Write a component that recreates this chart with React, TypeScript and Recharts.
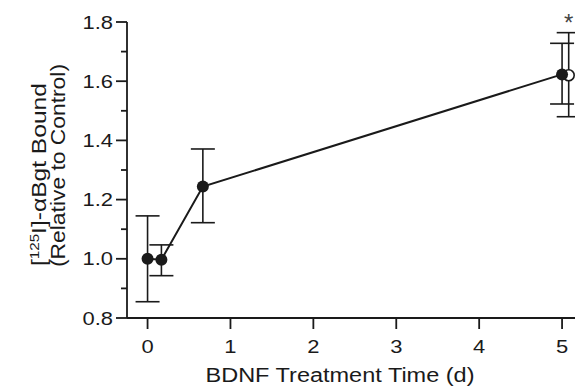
import {
  ComposedChart,
  Line,
  Scatter,
  XAxis,
  YAxis,
  ErrorBar,
  ReferenceDot,
} from 'recharts'

// BDNF treatment time (days) and normalized binding
const times = [0, 0.167, 0.667, 5]
const means = [1.0, 0.997, 1.244, 1.623]
const errLow = [0.855, 0.943, 1.122, 1.523]
const errHigh = [1.145, 1.047, 1.371, 1.728]

// open-circle comparison point at 5 d
const openTime = [5.08]
const openMean = [1.62]
const openLow = [1.48]
const openHigh = [1.764]

const xTicks = [0, 1, 2, 3, 4, 5]
const yTicks = [0.8, 0.9, 1.0, 1.1, 1.2, 1.3, 1.4, 1.5, 1.6, 1.7, 1.8]

const lineData = times.map((t, i) => ({
  x: t,
  y: means[i],
  err: [means[i] - errLow[i], errHigh[i] - means[i]],
}))

const openData = openTime.map((t, i) => ({
  x: t,
  y: openMean[i],
  err: [openMean[i] - openLow[i], openHigh[i] - openMean[i]],
}))

const FONT = 'Arial, "Liberation Sans", sans-serif'
const INK = '#1a1a1a'
const WIDE = 1.22 // the source font is wider than Arial

const YTick = (props: any) => {
  const { x, y, payload } = props
  const v = Math.round(payload.value * 10)
  const major = v % 2 === 0
  return (
    <g>
      <line x1={x - (major ? 11 : 6)} x2={x} y1={y} y2={y} stroke={INK} strokeWidth={1.8} />
      {major && (
        <text
          transform={`translate(${x - 14},${y + 6.5}) scale(${WIDE},1)`}
          textAnchor="end"
          fontSize={18}
          fontFamily={FONT}
          fill={INK}
        >
          {payload.value.toFixed(1)}
        </text>
      )}
    </g>
  )
}

const XTick = (props: any) => {
  const { x, y, payload } = props
  return (
    <g>
      <line x1={x} x2={x} y1={y} y2={y + 11} stroke={INK} strokeWidth={1.8} />
      <text
        transform={`translate(${x},${y + 35}) scale(${WIDE},1)`}
        textAnchor="middle"
        fontSize={18}
        fontFamily={FONT}
        fill={INK}
      >
        {payload.value}
      </text>
    </g>
  )
}

const XLabel = () => (
  <text
    x={340}
    y={382}
    textAnchor="middle"
    fontSize={19.5}
    fontFamily={FONT}
    fill={INK}
    textLength={269}
    lengthAdjust="spacingAndGlyphs"
  >
    BDNF Treatment Time (d)
  </text>
)

const YLabel = () => (
  <g fontFamily={FONT} fontSize={19.5} fill={INK}>
    <text
      transform="translate(46,266) rotate(-90)"
      textAnchor="start"
      textLength={183}
      lengthAdjust="spacingAndGlyphs"
    >
      [<tspan fontSize={12} dy={-7}>125</tspan>
      <tspan dy={7}>I]-αBgt Bound</tspan>
    </text>
    <text
      transform="translate(65,267) rotate(-90)"
      textAnchor="start"
      textLength={203}
      lengthAdjust="spacingAndGlyphs"
    >
      (Relative to Control)
    </text>
  </g>
)

const OpenDot = (props: any) => {
  const { cx, cy } = props
  return <circle cx={cx} cy={cy} r={5.5} fill="#fff" stroke={INK} strokeWidth={1.6} />
}

export default function App() {
  return (
    <div style={{ position: 'absolute', left: 0, top: 0, background: '#fff' }}>
      <ComposedChart
        width={575}
        height={386}
        margin={{ top: 22, right: 0, left: 0, bottom: 0 }}
      >
        <XAxis
          type="number"
          dataKey="x"
          domain={[-0.248, 5.156]}
          ticks={xTicks}
          allowDataOverflow
          height={68}
          stroke={INK}
          strokeWidth={1.8}
          tickSize={0}
          tickMargin={0}
          tickLine={false}
          tick={<XTick />}
          label={<XLabel />}
        />
        <YAxis
          type="number"
          dataKey="y"
          domain={[0.8, 1.8]}
          ticks={yTicks}
          interval={0}
          width={127}
          stroke={INK}
          strokeWidth={1.8}
          tickSize={0}
          tickMargin={0}
          tickLine={false}
          tick={<YTick />}
          label={<YLabel />}
        />
        <Scatter data={openData} dataKey="y" shape={<OpenDot />} isAnimationActive={false}>
          <ErrorBar dataKey="err" direction="y" width={12} stroke={INK} strokeWidth={1.6} />
        </Scatter>
        <Line
          data={lineData}
          dataKey="y"
          stroke={INK}
          strokeWidth={2}
          dot={{ r: 6, fill: INK, stroke: INK, strokeWidth: 0 }}
          activeDot={false}
          isAnimationActive={false}
        >
          <ErrorBar dataKey="err" direction="y" width={12} stroke={INK} strokeWidth={1.6} />
        </Line>
        <ReferenceDot
          x={5.08}
          y={1.8}
          r={0}
          ifOverflow="visible"
          label={{ value: '*', position: 'center', fontSize: 24, fontFamily: FONT, fill: '#444' }}
        />
      </ComposedChart>
    </div>
  )
}
